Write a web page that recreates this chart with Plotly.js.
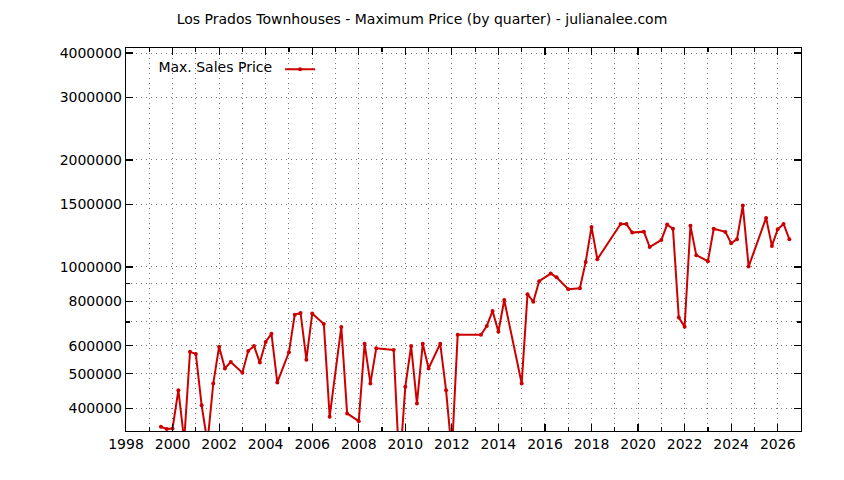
<!DOCTYPE html>
<html>
<head>
<meta charset="utf-8">
<script src="https://cdn.plot.ly/plotly-3.0.1.min.js"></script>
<style>
    body { margin: 0; background: #fff; }
    #chart { width: 844px; height: 480px; }
</style>
</head>
<body>
<div id="chart"></div>
<script>
// quarter (decimal year) and maximum sale price
let quarters = [
    1999.5, 1999.75, 2000.0, 2000.25, 2000.5, 2000.75, 2001.0, 2001.25, 2001.5, 2001.75,
    2002.0, 2002.25, 2002.5, 2003.0, 2003.25, 2003.5, 2003.75, 2004.0, 2004.25, 2004.5,
    2005.0, 2005.25, 2005.5, 2005.75, 2006.0, 2006.5, 2006.75, 2007.25, 2007.5, 2008.0,
    2008.25, 2008.5, 2008.75, 2009.5, 2009.75, 2010.0, 2010.25, 2010.5, 2010.75, 2011.0,
    2011.5, 2011.75, 2012.0, 2012.25, 2013.25, 2013.5, 2013.75, 2014.0, 2014.25, 2015.0,
    2015.25, 2015.5, 2015.75, 2016.25, 2016.5, 2017.0, 2017.5, 2017.75, 2018.0, 2018.25,
    2019.25, 2019.5, 2019.75, 2020.25, 2020.5, 2021.0, 2021.25, 2021.5, 2021.75, 2022.0,
    2022.25, 2022.5, 2023.0, 2023.25, 2023.75, 2024.0, 2024.25, 2024.5, 2024.75, 2025.5,
    2025.75, 2026.0, 2026.25, 2026.5
];
let maxPrice = [
    355000, 350000, 351000, 450000, 325000, 577000, 569000, 408000, 320000, 470000,
    596000, 518000, 540000, 504000, 580000, 599000, 538000, 615000, 649000, 473000,
    575000, 734000, 742000, 548000, 739000, 691000, 379000, 678000, 387000, 368000,
    608000, 470000, 590000, 584000, 270000, 460000, 599000, 413000, 608000, 518000,
    608000, 450000, 300000, 644000, 644000, 682000, 752000, 657000, 807000, 470000,
    838000, 798000, 912000, 958000, 935000, 865000, 871000, 1033000, 1296000, 1051000,
    1321000, 1320000, 1249000, 1257000, 1137000, 1191000, 1316000, 1280000, 720000, 679000,
    1305000, 1079000, 1038000, 1280000, 1255000, 1166000, 1197000, 1488000, 1002000, 1374000,
    1146000, 1277000, 1321000, 1197000
];
let yTicks = [400000, 500000, 600000, 800000, 1000000, 1500000, 2000000, 3000000, 4000000];
let yMinorTicks = [700000, 900000];
let xTicks = [1998, 2000, 2002, 2004, 2006, 2008, 2010, 2012, 2014, 2016, 2018, 2020, 2022, 2024, 2026];

let titleText = 'Los Prados Townhouses - Maximum Price (by quarter) - julianalee.com';
let seriesName = 'Max. Sales Price';

let font = 'DejaVu Sans, Verdana, sans-serif';
let red = '#cc0000';
let gridDash = '1px,4px';   // gnuplot style sparse dots

let dataDraw = [{
    x: quarters,
    y: maxPrice,
    type: 'scatter',
    mode: 'lines+markers',
    name: '',
    line: { color: red, width: 2 },
    marker: { color: red, size: 4 },
    cliponaxis: true
}];

let axisBase = () => ({
    showline: true,
    linecolor: '#000',
    linewidth: 1.2,
    mirror: 'allticks',
    ticks: 'inside',
    tickcolor: '#000',
    tickwidth: 1.2,
    ticklen: 7,
    showgrid: true,
    gridcolor: '#777',
    gridwidth: 1,
    griddash: gridDash,
    zeroline: false,
    tickfont: { family: font, size: 14, color: '#000' }
});

let xaxis = axisBase();
Object.assign(xaxis, {
    range: [1998, 2027],
    tickvals: xTicks,
    ticktext: xTicks.map(v => String(v)),
    minor: { dtick: 1, tick0: 1998, ticks: 'inside', ticklen: 4, tickcolor: '#000', showgrid: true, gridcolor: '#777', griddash: gridDash }
});

let yaxis = axisBase();
Object.assign(yaxis, {
    type: 'log',
    range: [5.5382, 6.6162],
    tickvals: yTicks,
    ticktext: yTicks.map(v => String(v)),
    minor: { tickvals: yMinorTicks, ticks: 'inside', ticklen: 4, tickcolor: '#000', showgrid: true, gridcolor: '#777', griddash: gridDash }
});

let layout = {
    width: 844,
    height: 480,
    autosize: false,
    margin: { l: 126, r: 43, t: 48, b: 49 },
    paper_bgcolor: '#fff',
    plot_bgcolor: '#fff',
    font: { family: font, size: 14, color: '#000' },
    title: {
        text: titleText,
        font: { family: font, size: 14, color: '#000' },
        xref: 'container', x: 0.5, xanchor: 'center',
        yref: 'container', y: 1 - 19 / 480, yanchor: 'middle'
    },
    showlegend: true,
    legend: {
        x: 0.045, xanchor: 'left',
        y: 0.985, yanchor: 'top',
        bgcolor: 'rgba(0,0,0,0)',
        borderwidth: 0,
        font: { family: font, size: 14, color: '#000' },
        title: { text: seriesName, side: 'left', font: { family: font, size: 14, color: '#000' } }
    },
    xaxis: xaxis,
    yaxis: yaxis
};

Plotly.newPlot('chart', dataDraw, layout, { staticPlot: true, displayModeBar: false });
</script>
</body>
</html>
